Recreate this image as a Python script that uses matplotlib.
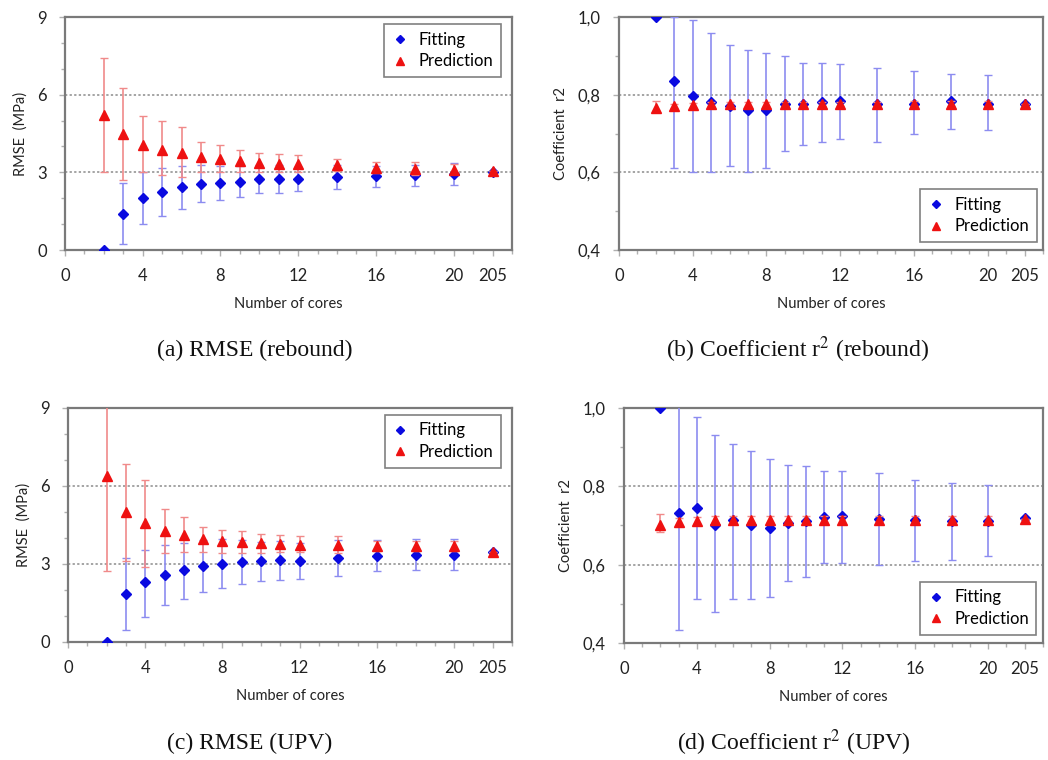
import numpy as np
import matplotlib.pyplot as plt
from matplotlib.ticker import FixedLocator, MultipleLocator

plt.rcParams['mathtext.fontset'] = 'stix'

# ── Dados ────────────────────────────────────────────────────────────────────
cores = [2, 3, 4, 5, 6, 7, 8, 9, 10, 11, 12, 14, 16, 18, 20, 22]   # 22 -> "205"
xtick_pos = [0, 4, 8, 12, 16, 20, 22]
xtick_lab = ['0', '4', '8', '12', '16', '20', '205']

# (a) RMSE rebound
a_fit    = [0, 1.41, 2.02, 2.24, 2.42, 2.57, 2.60, 2.64, 2.74, 2.74, 2.74, 2.83, 2.85, 2.89, 2.93, 3.02]
a_fit_lo = [0, 0.23, 1.00, 1.31, 1.58, 1.84, 1.93, 2.03, 2.21, 2.21, 2.27, 2.37, 2.44, 2.48, 2.50, 3.02]
a_fit_hi = [0, 2.60, 3.00, 3.15, 3.24, 3.28, 3.24, 3.25, 3.27, 3.27, 3.21, 3.29, 3.26, 3.30, 3.36, 3.02]
a_pre    = [5.20, 4.50, 4.05, 3.88, 3.75, 3.60, 3.53, 3.43, 3.38, 3.33, 3.32, 3.27, 3.17, 3.13, 3.10, 3.04]
a_pre_lo = [3.00, 2.70, 3.00, 2.90, 2.83, 3.00, 3.00, 3.00, 3.03, 3.00, 3.00, 3.05, 2.97, 2.90, 2.95, 3.04]
a_pre_hi = [7.42, 6.27, 5.18, 4.99, 4.76, 4.18, 4.05, 3.86, 3.73, 3.70, 3.66, 3.50, 3.40, 3.40, 3.32, 3.04]

# (b) r2 rebound
b_fit    = [1.0, 0.835, 0.796, 0.781, 0.770, 0.760, 0.760, 0.775, 0.775, 0.781, 0.783, 0.775, 0.777, 0.783, 0.777, 0.777]
b_fit_lo = [1.0, 0.610, 0.600, 0.600, 0.617, 0.601, 0.610, 0.655, 0.670, 0.679, 0.687, 0.679, 0.698, 0.711, 0.709, 0.777]
b_fit_hi = [1.0, 1.000, 0.993, 0.960, 0.929, 0.914, 0.907, 0.899, 0.882, 0.882, 0.880, 0.870, 0.860, 0.853, 0.850, 0.777]
b_pre    = [0.767, 0.771, 0.773, 0.775, 0.775, 0.775, 0.775, 0.776, 0.775, 0.776, 0.776, 0.776, 0.777, 0.777, 0.777, 0.777]
b_pre_lo = [0.757, 0.765, 0.767, 0.769, 0.769, 0.769, 0.769, 0.770, 0.769, 0.770, 0.770, 0.770, 0.771, 0.771, 0.771, 0.777]
b_pre_hi = [0.784, 0.777, 0.779, 0.781, 0.781, 0.781, 0.781, 0.782, 0.781, 0.782, 0.782, 0.782, 0.783, 0.783, 0.783, 0.777]

# (c) RMSE UPV
c_fit    = [0, 1.86, 2.29, 2.59, 2.76, 2.91, 3.01, 3.08, 3.10, 3.14, 3.13, 3.23, 3.32, 3.36, 3.36, 3.45]
c_fit_lo = [0, 0.45, 0.96, 1.44, 1.65, 1.91, 2.08, 2.24, 2.36, 2.40, 2.44, 2.55, 2.72, 2.78, 2.78, 3.45]
c_fit_hi = [0, 3.23, 3.55, 3.72, 3.81, 3.91, 3.94, 3.92, 3.84, 3.88, 3.82, 3.91, 3.92, 3.94, 3.94, 3.45]
c_pre    = [6.40, 4.99, 4.58, 4.26, 4.13, 3.94, 3.87, 3.85, 3.79, 3.78, 3.74, 3.72, 3.68, 3.70, 3.68, 3.45]
c_pre_lo = [2.72, 3.10, 2.90, 3.42, 3.45, 3.45, 3.42, 3.42, 3.42, 3.46, 3.45, 3.42, 3.49, 3.50, 3.49, 3.45]
c_pre_hi = [10.1, 6.86, 6.24, 5.13, 4.81, 4.42, 4.32, 4.26, 4.17, 4.10, 4.06, 4.06, 3.87, 3.90, 3.87, 3.45]

# (d) r2 UPV
d_fit    = [1.0, 0.732, 0.745, 0.702, 0.715, 0.700, 0.694, 0.706, 0.712, 0.721, 0.723, 0.717, 0.715, 0.712, 0.712, 0.719]
d_fit_lo = [1.0, 0.432, 0.511, 0.479, 0.513, 0.511, 0.517, 0.557, 0.568, 0.603, 0.603, 0.600, 0.610, 0.613, 0.621, 0.719]
d_fit_hi = [1.0, 1.030, 0.977, 0.930, 0.909, 0.890, 0.870, 0.854, 0.853, 0.838, 0.840, 0.834, 0.817, 0.809, 0.803, 0.719]
d_pre    = [0.702, 0.708, 0.711, 0.715, 0.715, 0.715, 0.715, 0.715, 0.715, 0.715, 0.715, 0.715, 0.715, 0.715, 0.715, 0.717]
d_pre_lo = [0.683, 0.700, 0.703, 0.707, 0.707, 0.707, 0.707, 0.707, 0.707, 0.707, 0.707, 0.707, 0.707, 0.707, 0.707, 0.717]
d_pre_hi = [0.728, 0.718, 0.721, 0.725, 0.725, 0.725, 0.725, 0.725, 0.725, 0.725, 0.725, 0.725, 0.725, 0.725, 0.725, 0.717]

SANS = 'Lato'
SERIF = 'Liberation Serif'
GRAY = '#7a7a7a'


def panel(ax, fit, flo, fhi, pre, plo, phi, ylim, ymaj, ymin, ylabel, fmt, legloc, legbox):
    x = np.array(cores)
    fit, flo, fhi = map(np.array, (fit, flo, fhi))
    pre, plo, phi = map(np.array, (pre, plo, phi))

    e1 = ax.errorbar(x, fit, yerr=[fit - flo, fhi - fit], fmt='D', color='#0a0ae0',
                     ms=5, ecolor='#8c8cf0', elinewidth=1.2, capsize=3, capthick=1,
                     zorder=3)
    e2 = ax.errorbar(x, pre, yerr=[pre - plo, phi - pre], fmt='^', color='#ee1111',
                     ms=6.5, ecolor='#f08a8a', elinewidth=1.2, capsize=3, capthick=1,
                     zorder=4)

    ax.set_xlim(0, 23)
    ax.set_ylim(*ylim)
    ax.xaxis.set_major_locator(FixedLocator(xtick_pos))
    ax.set_xticklabels(xtick_lab)
    ax.xaxis.set_minor_locator(MultipleLocator(1))
    ax.yaxis.set_major_locator(MultipleLocator(ymaj))
    ax.yaxis.set_minor_locator(MultipleLocator(ymin))
    ax.yaxis.set_major_formatter(plt.FuncFormatter(fmt))

    for v in np.arange(ylim[0] + ymaj, ylim[1] - 1e-9, ymaj):
        ax.axhline(v, color='#8c8c8c', lw=1.1, ls=(0, (1.5, 1.5)), zorder=1)

    for s in ax.spines.values():
        s.set_color(GRAY)
        s.set_linewidth(1.6)
    ax.tick_params(which='both', direction='out', color='#b0b0b0', labelcolor='#222222')
    ax.tick_params(which='major', length=4, width=1, labelsize=12)
    ax.tick_params(axis='x', which='major', pad=9)
    ax.tick_params(axis='y', which='major', pad=9)
    ax.tick_params(which='minor', length=3, width=1)
    for lab in ax.get_xticklabels() + ax.get_yticklabels():
        lab.set_family(SANS)

    ax.set_ylabel(ylabel, fontsize=10.5, family=SANS, color='#222222', labelpad=7)
    ax.set_xlabel('Number of cores', fontsize=10.5, family=SANS, color='#222222', labelpad=9)

    leg = ax.legend([e1[0], e2[0]], ['Fitting', 'Prediction'], loc=legloc,
                    bbox_to_anchor=legbox, fancybox=False, framealpha=1,
                    edgecolor='#808080', prop={'family': SANS, 'size': 12},
                    markerscale=0.8, handlelength=1.0, handletextpad=0.6,
                    borderpad=0.45, labelspacing=0.35, borderaxespad=0)
    leg.get_frame().set_linewidth(1.2)


rmse_fmt = lambda v, p: f'{v:.0f}'
r2_fmt = lambda v, p: f'{v:.1f}'.replace('.', ',')

fig = plt.figure(figsize=(10.48, 7.6), dpi=100, facecolor='white')

ax_a = fig.add_axes([0.062, 0.671, 0.4265, 0.3066])
ax_b = fig.add_axes([0.5906, 0.671, 0.4046, 0.3066])
ax_c = fig.add_axes([0.0649, 0.1553, 0.4237, 0.3080])
ax_d = fig.add_axes([0.5954, 0.1540, 0.3996, 0.3092])

panel(ax_a, a_fit, a_fit_lo, a_fit_hi, a_pre, a_pre_lo, a_pre_hi, (0, 9), 3, 1,
      'RMSE  (MPa)', rmse_fmt, 'upper right', (0.975, 0.97))
panel(ax_b, b_fit, b_fit_lo, b_fit_hi, b_pre, b_pre_lo, b_pre_hi, (0.4, 1.0), 0.2, 0.1,
      'Coefficient  r2', r2_fmt, 'lower right', (0.985, 0.035))
panel(ax_c, c_fit, c_fit_lo, c_fit_hi, c_pre, c_pre_lo, c_pre_hi, (0, 9), 3, 1,
      'RMSE  (MPa)', rmse_fmt, 'upper right', (0.975, 0.97))
panel(ax_d, d_fit, d_fit_lo, d_fit_hi, d_pre, d_pre_lo, d_pre_hi, (0.4, 1.0), 0.2, 0.1,
      'Coefficient  r2', r2_fmt, 'lower right', (0.985, 0.035))

# legendas das figuras (estilo artigo)
captions = [
    (255, 350, '(a) RMSE (rebound)'),
    (798, 350, '(b) Coefficient r$^2$ (rebound)'),
    (250, 743, '(c) RMSE (UPV)'),
    (794, 743, '(d) Coefficient r$^2$ (UPV)'),
]
for px, py, txt in captions:
    fig.text(px / 1048, 1 - py / 760, txt, ha='center', va='center',
             fontsize=17, family=SERIF, color='#111111')

plt.savefig('out.png', dpi=100, facecolor='white')
plt.close()
